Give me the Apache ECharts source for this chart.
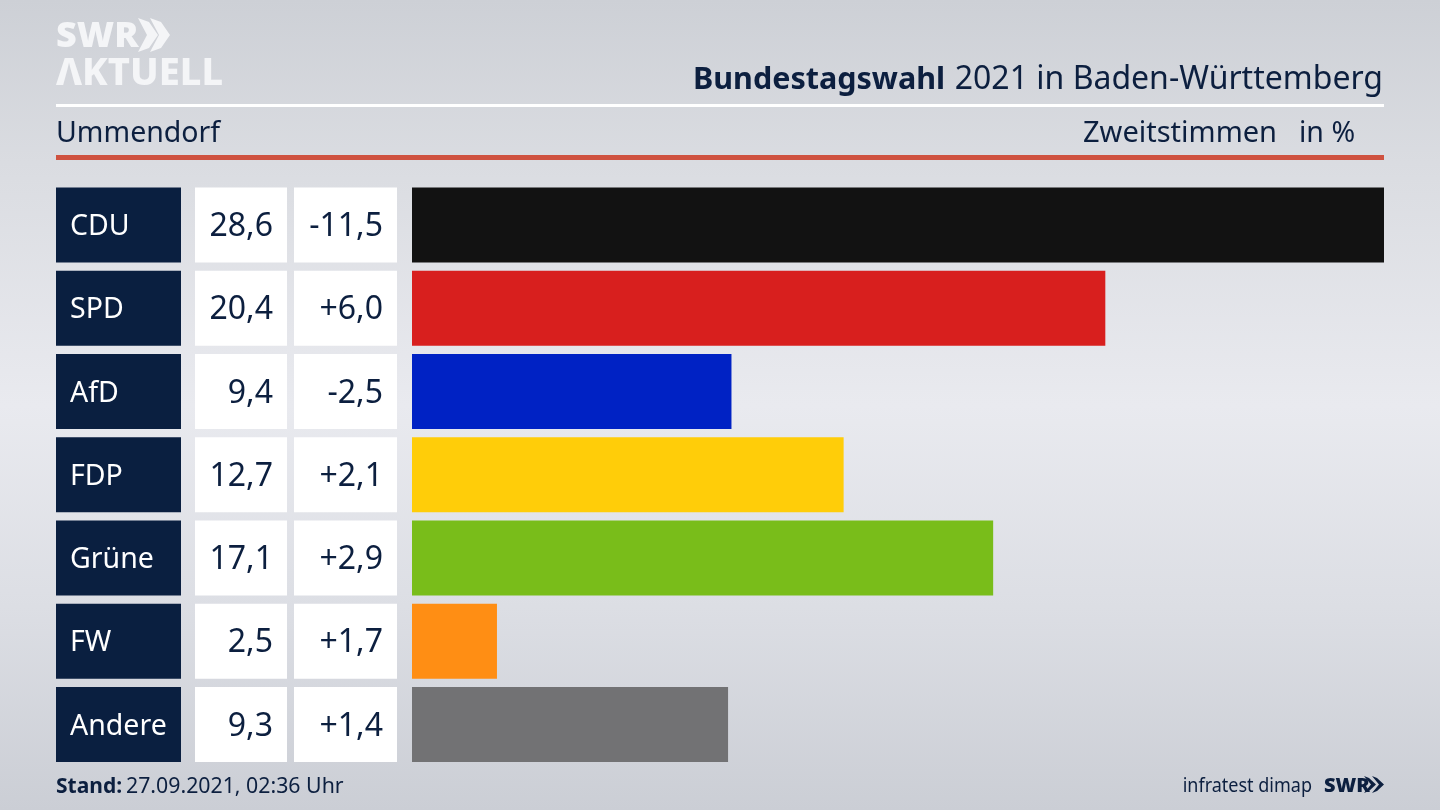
<!DOCTYPE html>
<html><head><meta charset="utf-8">
<style>html,body{margin:0;padding:0;background:#d5d7dd}#c{width:1440px;height:810px}</style>
<script src="https://cdn.jsdelivr.net/npm/echarts@6/dist/echarts.min.js"></script>
</head><body><div id="c"></div>
<script>
const parties = ['CDU','SPD','AfD','FDP','Grüne','FW','Andere'];
const shares = [28.6,20.4,9.4,12.7,17.1,2.5,9.3];
const shareLabels = ['28,6','20,4','9,4','12,7','17,1','2,5','9,3'];
const changeLabels = ['-11,5','+6,0','-2,5','+2,1','+2,9','+1,7','+1,4'];
const barColors = ['#121212','#d81f1e','#0022c4','#ffcd09','#79bd1a','#ff8e14','#727274'];
const FONT = '"Noto Sans"';
const INK = '#0c1f3f';
const chart = echarts.init(document.getElementById('c'), null, {renderer:'canvas'});
function txt(x,y,text,size,align,weight,fill,sx){
  return {type:'text',x:x,y:y,scaleX:sx||1,silent:true,style:{text:text,font:(weight||'400')+' '+size+'px '+FONT,fill:fill||INK,textAlign:align||'left',textVerticalAlign:'middle'}};
}
function chev2(x,y,w,h,t,fill){
  return {type:'polygon',silent:true,shape:{points:[[x,y],[x+t,y+h*0.12],[x+t+w,y+h/2],[x+t,y+h*0.88],[x,y+h],[x+w,y+h/2]]},style:{fill:fill}};
}
chart.setOption({
  animation:false,
  backgroundColor:{type:'linear',x:0,y:0,x2:0,y2:1,colorStops:[
    {offset:0,color:'#cdd0d6'},{offset:0.2,color:'#dadce1'},{offset:0.5,color:'#e9eaef'},{offset:0.75,color:'#dcdee4'},{offset:1,color:'#cbced5'}]},
  grid:{left:412,width:972,top:183.4,height:582.75},
  xAxis:{type:'value',min:0,max:28.6,show:false},
  yAxis:{type:'category',data:parties,inverse:true,show:false},
  series:[
    {type:'bar',barWidth:75,data:shares.map((v,i)=>({value:v,itemStyle:{color:barColors[i]}}))},
    {type:'custom',clip:false,silent:true,encode:{y:1},
     data:parties.map((p,i)=>[0,i]),
     renderItem:function(params,api){
       const i=api.value(1), cy=api.coord([0,i])[1], h=75, top=cy-h/2;
       return {type:'group',children:[
         {type:'rect',shape:{x:56,y:top,width:125,height:h},style:{fill:'#0a1f40'}},
         {type:'rect',shape:{x:195,y:top,width:92,height:h},style:{fill:'#ffffff'}},
         {type:'rect',shape:{x:294,y:top,width:103,height:h},style:{fill:'#ffffff'}},
         {type:'text',style:{x:70,y:cy+2,text:parties[i],font:'400 28.5px '+FONT,fill:'#ffffff',textAlign:'left',textVerticalAlign:'middle'}},
         {type:'text',style:{x:273,y:cy+2,text:shareLabels[i],font:'400 32px '+FONT,fill:INK,textAlign:'right',textVerticalAlign:'middle'}},
         {type:'text',style:{x:383,y:cy+2,text:changeLabels[i],font:'400 32px '+FONT,fill:INK,textAlign:'right',textVerticalAlign:'middle'}}
       ]};
     }}
  ],
  graphic:{elements:[
    {type:'rect',silent:true,shape:{x:56,y:104,width:1328,height:3},style:{fill:'#ffffff'}},
    {type:'rect',silent:true,shape:{x:56,y:155,width:1328,height:5},style:{fill:'#cf5240'}},
    txt(56,37,'SWR',36,'left','900','#f4f5f7'),
    chev2(138,18,9,34,11,'#f4f5f7'),chev2(150,18,9,34,11,'#f4f5f7'),
    txt(56,74,'ΛKTUELL',38,'left','800','#f4f5f7'),
    txt(693,80,'Bundestagswahl',30.5,'left','700'),
    txt(1383,80,'2021 in Baden-Württemberg',32,'right'),
    txt(56,134,'Ummendorf',28.5),
    txt(1083,134,'Zweitstimmen',29),
    txt(1299,134,'in %',28.5),
    txt(56,787,'Stand:',21,'left','700'),
    txt(126,787,'27.09.2021, 02:36 Uhr',21.3),
    txt(1312,786,'infratest dimap',20,'right','400',INK,0.9),
    txt(1324,786,'SWR',20,'left','900'),
    chev2(1364,776,7,17,5,INK),chev2(1372,776,7,17,5,INK)
  ]}
});
</script></body></html>
